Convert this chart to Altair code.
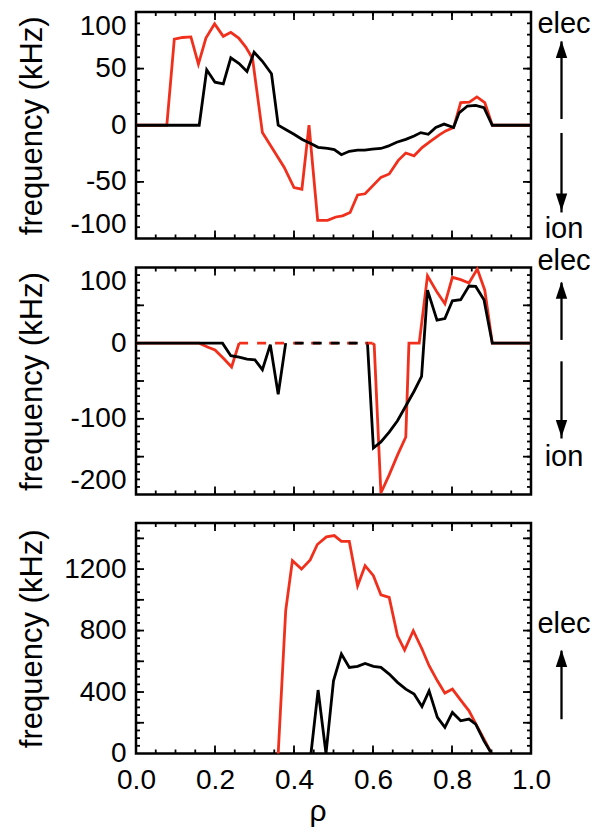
import altair as alt
import pandas as pd

# ---------------- data ----------------
# Panel 1
p1_red_x = [0.0, 0.078, 0.097, 0.118, 0.139, 0.158, 0.177, 0.199, 0.221, 0.240, 0.260, 0.278, 0.295,
            0.320, 0.341, 0.375, 0.400, 0.420, 0.438, 0.460, 0.485, 0.506, 0.523, 0.542, 0.561, 0.580,
            0.620, 0.641, 0.664, 0.683, 0.704, 0.725, 0.746, 0.768, 0.784, 0.804, 0.822, 0.844, 0.863,
            0.883, 0.902, 1.0]
p1_red_y = [0, 0, 76, 77.5, 78, 54, 77, 89.5, 78.5, 82, 77, 69, 59,
            -6.5, -18, -37, -55, -56.5, 0, -84, -84, -81, -80, -77, -61.5, -60.5,
            -46, -43, -31, -24.5, -27, -19.5, -14, -8.5, -5, -2, 20, 20.5, 25,
            20, 0, 0]
p1_blk_x = [0.0, 0.160, 0.179, 0.200, 0.221, 0.240, 0.261, 0.281, 0.299, 0.320, 0.343, 0.360, 0.380,
            0.400, 0.421, 0.441, 0.461, 0.485, 0.502, 0.520, 0.540, 0.561, 0.579, 0.598, 0.620, 0.638,
            0.660, 0.683, 0.704, 0.721, 0.740, 0.759, 0.780, 0.804, 0.818, 0.839, 0.860, 0.881, 0.902, 1.0]
p1_blk_y = [0, 0, 49, 38, 36.5, 59.5, 54.5, 47.5, 64.5, 56.5, 45.5, 0, -4,
            -8, -12.5, -16, -19.5, -20.5, -21.5, -26, -23, -22, -22, -21, -20.5, -18.5,
            -15, -12.5, -9.5, -6.5, -8, -2, 1, -2, 11, 17, 17.5, 15.5, 0, 0]

# Panel 2 (solid pieces and dashed zero stretches)
p2_red_a_x = [0.0, 0.160, 0.181, 0.200, 0.223, 0.242, 0.261]
p2_red_a_y = [0, 0, -5, -9, -21, -31.5, 0]
p2_red_b_x = [0.599, 0.603, 0.620, 0.641, 0.662, 0.683, 0.691, 0.717, 0.738, 0.762, 0.782, 0.801,
              0.822, 0.843, 0.864, 0.883, 0.902, 1.0]
p2_red_b_y = [0, -2, -198, -174, -148, -124, 0, 0, 89, 67.5, 52, 87,
              84, 79.5, 98, 70, 0, 0]
p2_red_dash_x = [0.261, 0.599]
p2_blk_a_x = [0.0, 0.219, 0.240, 0.261, 0.281, 0.301, 0.320, 0.340, 0.360, 0.379]
p2_blk_a_y = [0, 0, -16.5, -18.5, -21, -22, -35, -2, -67.5, 0]
p2_blk_b_x = [0.586, 0.601, 0.620, 0.641, 0.662, 0.683, 0.704, 0.723, 0.738, 0.762, 0.782, 0.801,
              0.822, 0.843, 0.860, 0.881, 0.902, 1.0]
p2_blk_b_y = [0, -138.5, -130.5, -117.5, -102.5, -83, -63.5, -44, 70, 30.5, 32.5, 56,
              57.5, 75.5, 75, 57.5, 0, 0]
p2_blk_dash_x = [0.379, 0.586]

# Panel 3 (the zero stretches lie on the frame and are hidden there)
p3_red_x = [0.360, 0.379, 0.396, 0.419, 0.441, 0.459, 0.482, 0.502, 0.520, 0.540, 0.561, 0.580,
            0.601, 0.620, 0.641, 0.662, 0.680, 0.702, 0.724, 0.742, 0.763, 0.782, 0.801, 0.822, 0.843,
            0.863, 0.881, 0.900]
p3_red_y = [0, 930, 1255, 1200, 1260, 1360, 1410, 1418, 1380, 1380, 1092, 1222,
            1157, 1033, 1016, 766, 673, 799, 680, 571, 473, 393, 419, 347, 278,
            180, 93, 0]
p3_blk_x = [0.443, 0.461, 0.481, 0.500, 0.520, 0.540, 0.561, 0.580, 0.601, 0.620, 0.641, 0.662,
            0.683, 0.704, 0.724, 0.742, 0.763, 0.782, 0.801, 0.822, 0.843, 0.860, 0.881, 0.900]
p3_blk_y = [0, 413, 0, 473, 647, 560, 567, 586, 567, 560, 517, 463,
            419, 387, 306, 408, 235, 170, 267, 213, 224, 191, 82, 0]

# axes
x_labels = [0.0, 0.2, 0.4, 0.6, 0.8, 1.0]
x_major = [0.2, 0.4, 0.6, 0.8]
x_minor = [i * 0.05 for i in range(1, 20)]
p1_ydom, p1_ylab = [-100, 100], [-100, -50, 0, 50, 100]
p1_major, p1_minor = [-50, 0, 50], [v for v in range(-90, 100, 10)]
p2_ydom, p2_ylab = [-200, 100], [-200, -100, 0, 100]
p2_major, p2_minor = [-150, -100, -50, 0, 50], [v for v in range(-190, 100, 10)]
p3_ydom, p3_ylab = [0, 1500], [0, 400, 800, 1200]
p3_major, p3_minor = [200, 400, 600, 800, 1000, 1200, 1400], [v for v in range(50, 1500, 50)]

# right-hand annotations (data units of each panel)
p1_text = [("elec", 89), ("ion", -92)]
p1_up, p1_up_head = (5.5, 74), 67
p1_dn, p1_dn_head = (-6.8, -77), -68
p2_text = [("elec", 109), ("ion", -150)]
p2_up, p2_up_head = (4.3, 80), 70
p2_dn, p2_dn_head = (-24, -126), -113
p3_text = [("elec", 842)]
p3_up, p3_up_head = (223, 669), 619

# ---------------- style ----------------
W = 395
FONT = "Liberation Sans"
RED = "#f0301c"
LW = 2.8
MAJ, MIN = 8, 4

xsc = alt.Scale(domain=[0, 1], nice=False, zero=False)


def df_line(xs, ys):
    return pd.DataFrame({"rho": xs, "f": ys})


def panel(lines, dashed, ydom, ylab, ymaj, ymin, H, flush, texts, ups, downs, show_x):
    ysc = alt.Scale(domain=ydom, nice=False, zero=False)
    xaxis = (alt.Axis(values=x_labels, format=".1f", title="ρ", ticks=False, domain=False,
                      grid=False, labelFont=FONT, labelFontSize=28, labelPadding=13,
                      labelFlush=False, titleFont=FONT, titleFontSize=30,
                      titleFontWeight="normal", titleX=181.5, titleY=58,
                      titleBaseline="middle") if show_x else None)
    yaxis = alt.Axis(values=ylab, labelExpr="datum.value + ''", title="frequency (kHz)",
                     ticks=False, domain=False,
                     grid=False, labelFont=FONT, labelFontSize=28, labelPadding=10,
                     labelFlush=flush, titleFont=FONT, titleFontSize=31,
                     titleFontWeight="normal", titleX=-103.5, titleY=H / 2,
                     titleBaseline="middle")

    def X(field):
        return alt.X(field, scale=xsc, axis=xaxis)

    def Y(field):
        return alt.Y(field, scale=ysc, axis=yaxis)

    layers = []
    for xs, ys, col in lines:
        layers.append(alt.Chart(df_line(xs, ys)).mark_line(color=col, strokeWidth=LW, strokeJoin="miter")
                      .encode(x=X("rho:Q"), y=Y("f:Q")))
    for xs, col, off in dashed:
        layers.append(alt.Chart(df_line(xs, [0] * len(xs))).mark_line(
            color=col, strokeWidth=LW, strokeDash=[9, 9], strokeDashOffset=off)
            .encode(x=X("rho:Q"), y=Y("f:Q")))

    # inward ticks on all four sides
    def yticks(vals, ln):
        d = pd.DataFrame({"v": vals})
        return [alt.Chart(d).mark_rule(color="black", strokeWidth=1.8).encode(y=Y("v:Q"), x=alt.value(0), x2=alt.value(ln)),
                alt.Chart(d).mark_rule(color="black", strokeWidth=1.8).encode(y=Y("v:Q"), x=alt.value(W - ln), x2=alt.value(W))]

    def xticks(vals, ln):
        d = pd.DataFrame({"v": vals})
        return [alt.Chart(d).mark_rule(color="black", strokeWidth=1.8).encode(x=X("v:Q"), y=alt.value(H - ln), y2=alt.value(H)),
                alt.Chart(d).mark_rule(color="black", strokeWidth=1.8).encode(x=X("v:Q"), y=alt.value(0), y2=alt.value(ln))]

    layers += yticks(ymin, MIN) + yticks(ymaj, MAJ) + xticks(x_minor, MIN) + xticks(x_major, MAJ)

    # annotations
    tdf = pd.DataFrame({"label": [t[0] for t in texts], "f": [t[1] for t in texts]})
    layers.append(alt.Chart(tdf).mark_text(font=FONT, fontSize=29, align="center", baseline="middle", color="black")
                  .encode(y=Y("f:Q"), x=alt.value(W + 33), text="label:N"))
    shafts = [ups[0]] + ([downs[0]] if downs else [])
    sdf = pd.DataFrame({"a": [s[0] for s in shafts], "b": [s[1] for s in shafts]})
    layers.append(alt.Chart(sdf).mark_rule(color="black", strokeWidth=2.3)
                  .encode(y=Y("a:Q"), y2="b:Q", x=alt.value(W + 30.5)))
    layers.append(alt.Chart(pd.DataFrame({"f": [ups[1]]})).mark_point(
        shape="M0,-1L0.66,1L-0.66,1Z", size=300, filled=True, color="black", opacity=1, strokeWidth=0)
        .encode(y=Y("f:Q"), x=alt.value(W + 30.5)))
    if downs:
        layers.append(alt.Chart(pd.DataFrame({"f": [downs[1]]})).mark_point(
            shape="M0,1L0.66,-1L-0.66,-1Z", size=300, filled=True, color="black", opacity=1, strokeWidth=0)
            .encode(y=Y("f:Q"), x=alt.value(W + 30.5)))

    return alt.layer(*layers).properties(width=W, height=H)


p1 = panel([(p1_red_x, p1_red_y, RED), (p1_blk_x, p1_blk_y, "black")], [],
           p1_ydom, p1_ylab, p1_major, p1_minor, 226.5, True, p1_text,
           (p1_up, p1_up_head), (p1_dn, p1_dn_head), False)
p2 = panel([(p2_red_a_x, p2_red_a_y, RED), (p2_red_b_x, p2_red_b_y, RED),
            (p2_blk_a_x, p2_blk_a_y, "black"), (p2_blk_b_x, p2_blk_b_y, "black")],
           [(p2_red_dash_x, RED, 0), (p2_blk_dash_x, "black", 9)],
           p2_ydom, p2_ylab, p2_major, p2_minor, 227, True, p2_text,
           (p2_up, p2_up_head), (p2_dn, p2_dn_head), False)
p3 = panel([(p3_red_x, p3_red_y, RED), (p3_blk_x, p3_blk_y, "black")], [],
           p3_ydom, p3_ylab, p3_major, p3_minor, 230.5, False, p3_text,
           (p3_up, p3_up_head), None, True)

chart = alt.vconcat(p1, p2, p3, spacing=28.5, bounds="flush").properties(
    padding={"left": 15, "top": 9, "right": 0, "bottom": 0}, background="white"
).configure_view(stroke="black", strokeWidth=2.5)

chart.save("out.html", embed_options={"renderer": "svg", "actions": False})
